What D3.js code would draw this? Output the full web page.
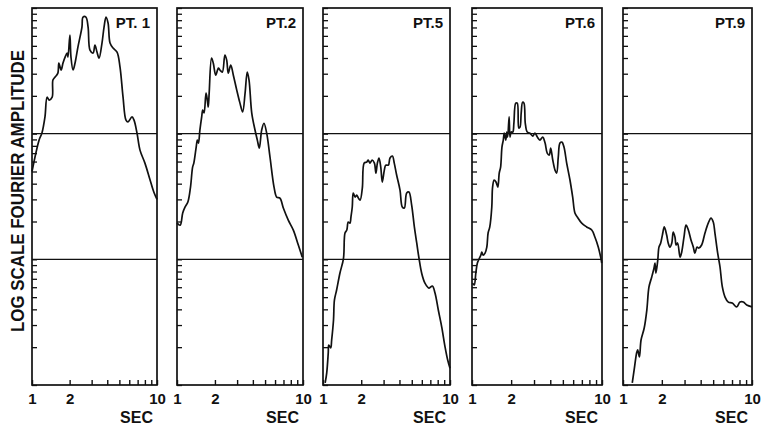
<!DOCTYPE html>
<html>
<head>
<meta charset="utf-8">
<script src="https://cdn.jsdelivr.net/npm/d3@7"></script>
<style>
  body { margin: 0; background: #fff; }
  svg { display: block; }
  text { font-family: "Liberation Sans", Arial, sans-serif; font-weight: bold; fill: #111; }
</style>
</head>
<body>
<div id="chart"></div>
<script>
// spectra.js: five log-log Fourier amplitude panels, one per station

// Data (period in sec, amplitude on an arbitrary log scale)
var titles = ["PT. 1", "PT.2", "PT.5", "PT.6", "PT.9"];

var pt1Period = [1.0,1.14,1.20,1.27,1.32,1.37,1.45,1.47,1.53,1.61,1.64,1.71,1.77,1.84,1.91,1.94,2.01,2.05,2.13,2.21,2.33,2.51,2.56,2.70,2.81,2.91,3.08,3.19,3.31,3.44,3.63,3.77,3.91,4.06,4.21,4.45,4.79,5.06,5.35,5.65,5.86,6.31,6.55,6.92,7.31,8.02,8.79,9.46,10];
var pt1Amp = [50,89,101,136,195,185,195,267,282,303,365,321,365,407,438,407,608,407,321,365,489,705,847,847,705,462,438,507,446,399,526,705,847,759,526,480,446,339,195,128,124,136,128,101,74,58,43,34,30];

var pt2Period = [1.0,1.06,1.11,1.16,1.22,1.28,1.33,1.36,1.42,1.45,1.48,1.52,1.57,1.60,1.64,1.70,1.74,1.77,1.80,1.88,1.94,2.03,2.13,2.19,2.29,2.40,2.48,2.55,2.67,2.80,2.98,3.16,3.32,3.47,3.61,3.73,3.92,4.16,4.34,4.50,4.70,4.90,5.15,5.47,5.89,6.18,6.56,6.98,7.64,8.38,9.18,9.87];
var pt2Amp = [19.4,18.7,23.4,26.1,28.6,37.6,54.2,58.3,78.2,88.9,84.2,107,136,154,146,210,185,163,210,399,365,292,333,321,309,422,385,303,351,292,222,175,149,210,309,267,146,107,88.9,76.8,107,121,101,65.2,37.6,31.3,30.7,25.6,20.5,17.1,13.0,10.4];

var pt5Period = [1.04,1.07,1.10,1.11,1.15,1.17,1.21,1.23,1.28,1.36,1.45,1.49,1.54,1.58,1.63,1.66,1.70,1.73,1.79,1.84,1.90,1.96,2.04,2.11,2.21,2.27,2.34,2.44,2.54,2.61,2.68,2.76,2.85,2.93,3.04,3.12,3.27,3.37,3.52,3.64,3.80,4.04,4.21,4.37,4.56,4.75,4.99,5.24,5.47,5.70,5.98,6.35,6.84,7.26,7.62,8.09,8.61,9.14,9.59,10];
var pt5Amp = [1.04,1.25,1.80,2.08,1.97,2.28,3.29,4.74,5.70,7.78,10.2,16.2,17.1,19.8,19.4,21.7,26.1,33.7,31.3,32.5,30.7,29.6,36.9,58.3,59.4,61.7,58.3,61.7,58.3,48.6,58.3,64.0,54.2,41.2,51.3,56.2,56.2,64.0,66.4,58.3,46.9,35.6,26.1,25.6,33.7,34.3,27.0,18.1,13.5,10.2,7.78,6.47,5.91,6.13,5.40,3.95,2.89,2.01,1.58,1.36];

var pt6Period = [1.01,1.04,1.07,1.10,1.14,1.17,1.19,1.22,1.26,1.30,1.33,1.37,1.42,1.44,1.48,1.53,1.58,1.62,1.66,1.70,1.74,1.77,1.82,1.85,1.88,1.93,1.96,2.00,2.06,2.10,2.17,2.23,2.29,2.34,2.39,2.45,2.51,2.57,2.66,2.79,2.93,3.05,3.18,3.33,3.50,3.65,3.79,3.93,4.03,4.18,4.35,4.48,4.61,4.75,4.92,5.10,5.35,5.67,5.95,6.19,6.46,6.98,7.62,8.34,8.83,9.37,9.77,9.95];
var pt6Amp = [6.47,6.25,7.78,9.35,10.2,10.8,11.4,10.8,11.2,12.5,16.2,18.1,26.1,37.6,42.8,41.2,37.6,48.6,54.2,78.2,88.9,101,88.9,103,94,136,94,103,103,121,175,175,111,113,146,178,175,121,103,101,95.7,101,94,88.9,94,84.2,70.1,67.6,76.8,61.7,51.3,48.6,65.2,84.2,85.7,78.2,58.3,42.8,31.3,23.4,21.7,19.4,18.1,17.1,15.0,12.5,10.4,9.35];

var pt9Period = [1.18,1.22,1.28,1.30,1.34,1.38,1.46,1.53,1.59,1.67,1.74,1.77,1.80,1.86,1.90,1.96,2.02,2.09,2.18,2.24,2.31,2.39,2.45,2.53,2.58,2.65,2.77,2.85,2.97,3.08,3.21,3.37,3.51,3.61,3.75,3.88,4.07,4.32,4.58,4.81,5.01,5.16,5.42,5.65,5.89,6.18,6.55,7.03,7.60,8.07,8.57,9.10,10];
var pt9Amp = [1.04,1.32,1.83,1.90,1.67,2.28,2.84,3.95,6.03,7.23,8.53,9.35,7.78,9.87,12.5,13.5,15.6,18.1,15.6,13.5,12.5,13.5,16.5,15.0,13.0,13.5,10.4,11.4,15.0,18.7,17.1,14.2,12.5,11.2,12.5,12.3,13.0,16.2,19.4,21.3,19.8,16.2,11.2,8.69,6.03,5.01,4.57,4.49,4.18,4.57,4.57,4.33,4.18];

var periods = [pt1Period, pt2Period, pt5Period, pt6Period, pt9Period];
var amps = [pt1Amp, pt2Amp, pt5Amp, pt6Amp, pt9Amp];

var xTickValues = [1, 2, 3, 4, 5, 6, 7, 8, 9, 10];
var xTickLabels = {1: "1", 2: "2", 10: "10"};
var decadeLines = [10, 100];

// Layout
var Width = 761, Height = 429;
var Top = 8, Bottom = 385;
var PanelLeft = [32, 177, 323, 472, 623];
var PanelRight = [157, 303, 450, 602, 752];

var svg = d3.select("#chart").append("svg")
  .attr("width", Width)
  .attr("height", Height);

var y = d3.scaleLog().domain([1, 1000]).range([Bottom, Top]);

function yTickValues() {
  // every 1..9 x 10^n over the three decades
  var v = [];
  [1, 10, 100].forEach(function(d) {
    for (var k = 1; k < 10; k++) v.push(d * k);
  });
  v.push(1000);
  return v;
}

function makePanel(i) {
  var x = d3.scaleLog().domain([1, 10]).range([PanelLeft[i], PanelRight[i]]);
  var g = svg.append("g");

  // log ticks on the left edge, pointing in
  g.append("g")
    .attr("transform", "translate(" + PanelLeft[i] + ",0)")
    .call(d3.axisLeft(y).tickValues(yTickValues()).tickSize(-5).tickFormat(""))
    .call(function(a) {
      a.select(".domain").remove();
      a.selectAll("line").attr("stroke", "#111").attr("stroke-width", 1.3);
    });

  // period axis along the bottom, ticks pointing up
  g.append("g")
    .attr("transform", "translate(0," + Bottom + ")")
    .call(d3.axisBottom(x).tickValues(xTickValues).tickSize(-5).tickPadding(8)
      .tickFormat(function(d) { return xTickLabels[d] || ""; }))
    .call(function(a) {
      a.select(".domain").remove();
      a.selectAll("line").attr("stroke", "#111").attr("stroke-width", 1.4);
      a.selectAll("text")
        .style("font-family", "'Liberation Sans', Arial, sans-serif")
        .style("font-weight", "bold")
        .style("font-size", "15px")
        .attr("fill", "#111");
    });

  // horizontal lines at each decade
  g.selectAll("line.decade")
    .data(decadeLines)
    .enter()
    .append("line")
      .attr("class", "decade")
      .attr("x1", PanelLeft[i]).attr("x2", PanelRight[i])
      .attr("y1", function(d) { return y(d); })
      .attr("y2", function(d) { return y(d); })
      .attr("stroke", "#111")
      .attr("stroke-width", 1.4);

  // frame
  g.append("rect")
    .attr("x", PanelLeft[i]).attr("y", Top)
    .attr("width", PanelRight[i] - PanelLeft[i])
    .attr("height", Bottom - Top)
    .attr("fill", "none")
    .attr("stroke", "#111")
    .attr("stroke-width", 1.7);

  // spectrum
  var pts = periods[i].map(function(p, j) { return [p, amps[i][j]]; });
  var line = d3.line()
    .x(function(d) { return x(d[0]); })
    .y(function(d) { return y(d[1]); })
    .curve(d3.curveCatmullRom.alpha(0.5));
  g.append("path")
    .datum(pts)
    .attr("d", line)
    .attr("fill", "none")
    .attr("stroke", "#111")
    .attr("stroke-width", 1.7)
    .attr("stroke-linejoin", "round");

  g.append("text")
    .attr("x", PanelRight[i] - 7).attr("y", 28)
    .attr("text-anchor", "end")
    .style("font-size", "15px")
    .text(titles[i]);

  g.append("text")
    .attr("x", PanelRight[i] - 4).attr("y", 423)
    .attr("text-anchor", "end")
    .style("font-size", "16px")
    .text("SEC");
}

for (var i = 0; i < titles.length; i++) makePanel(i);

// y axis title
svg.append("text")
  .attr("transform", "translate(24,191) rotate(-90)")
  .attr("text-anchor", "middle")
  .attr("textLength", 282)
  .attr("lengthAdjust", "spacingAndGlyphs")
  .style("font-size", "19px")
  .text("LOG SCALE FOURIER AMPLITUDE");
</script>
</body>
</html>
